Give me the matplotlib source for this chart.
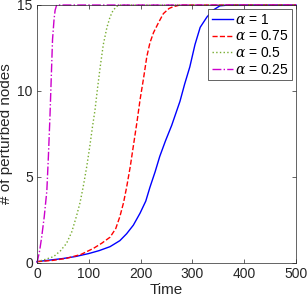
import matplotlib
matplotlib.use("Agg")
import matplotlib.pyplot as plt

plt.rcParams['font.family'] = ['Liberation Sans', 'DejaVu Sans']
plt.rcParams['mathtext.fontset'] = 'dejavuserif'

# values
t1 = [0, 25, 50, 75, 100, 120, 141, 160, 173, 186, 199, 210, 218, 228, 237, 248, 260, 268, 276,
      285, 295, 305, 315, 328, 340, 353, 370, 500]
y1 = [0.08, 0.17, 0.26, 0.38, 0.55, 0.72, 0.95, 1.3, 1.7, 2.2, 2.9, 3.6, 4.4, 5.3, 6.2, 7.1, 8.0,
      8.7, 9.4, 10.4, 11.4, 12.7, 13.7, 14.3, 14.7, 14.95, 15, 15]

t2 = [0, 30, 57, 85, 109, 125, 141, 152, 160, 167, 173, 180, 186, 193, 199, 206, 212, 218, 225,
      235, 244, 255, 263, 276, 500]
y2 = [0.08, 0.15, 0.27, 0.5, 0.85, 1.15, 1.5, 2.0, 2.7, 3.5, 4.4, 5.6, 6.8, 8.2, 9.5, 10.8, 12.0,
      12.8, 13.4, 14.0, 14.5, 14.8, 14.9, 15, 15]

t3 = [0, 15, 32, 45, 57, 67, 76, 83, 89, 96, 102, 107, 112, 117, 122, 128, 135, 141, 147, 157, 500]
y3 = [0.08, 0.2, 0.37, 0.7, 1.14, 1.8, 2.7, 3.5, 4.4, 5.6, 6.8, 7.9, 8.9, 10.2, 11.4, 12.7, 13.7,
      14.3, 14.7, 15, 15]

t4 = [0, 5, 9, 14, 19, 22, 25, 28, 30, 33, 35, 38, 500]
y4 = [0, 0.7, 1.5, 2.7, 4.2, 6.2, 8.5, 11.2, 13.0, 14.2, 14.7, 15, 15]

labels = [r'$\alpha$ = 1', r'$\alpha$ = 0.75', r'$\alpha$ = 0.5', r'$\alpha$ = 0.25']

fig = plt.figure(figsize=(3.07, 3.02), dpi=100)
ax = fig.add_axes([37/307, 1 - 263/302, 259/307, 258/302])

ax.plot(t1, y1, color='#0000ff', lw=1.0, ls='-', label=labels[0], clip_on=False)
ax.plot(t2, y2, color='#ff0000', lw=1.0, ls='--', label=labels[1], clip_on=False)
ax.plot(t3, y3, color='#77ac30', lw=1.0, ls=':', label=labels[2], clip_on=False)
ax.plot(t4, y4, color='#cc00cc', lw=1.0, ls='-.', label=labels[3], clip_on=False)

ax.set_xlim(0, 500)
ax.set_ylim(0, 15)
ax.set_xticks([0, 100, 200, 300, 400, 500])
ax.set_yticks([0, 5, 10, 15])
ax.tick_params(direction='in', top=True, right=True, labelsize=10, colors='#262626',
               length=3, width=0.5, pad=3)
for s in ax.spines.values():
    s.set_color('#262626')
    s.set_linewidth(0.5)
ax.set_xlabel('Time', fontsize=11, labelpad=1, color='#262626')
ax.set_ylabel('# of perturbed nodes', fontsize=11, labelpad=3, color='#262626')

leg = ax.legend(loc='upper right', fontsize=10, frameon=True, fancybox=False,
                handlelength=1.5, handletextpad=0.15, borderpad=0.25, labelspacing=0.2,
                borderaxespad=0.3)
leg.get_frame().set_edgecolor('#262626')
leg.get_frame().set_linewidth(0.5)
leg.get_frame().set_alpha(1)

fig.savefig('out.png', dpi=100)
